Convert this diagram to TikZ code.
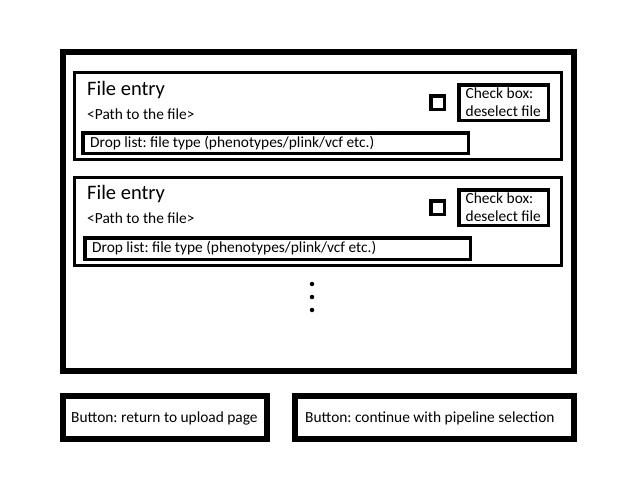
\documentclass[tikz,border=0pt]{standalone}
\usepackage{fontspec}
\setmainfont{Carlito}
\frenchspacing
\begin{document}
\begin{tikzpicture}[x=1pt, y=-1pt,
        outerbox/.style={draw, line width=6pt, inner sep=0pt},
        innerbox/.style={draw, line width=3.5pt, inner sep=0pt},
        label/.style={anchor=base west, inner sep=0pt, font=\fontsize{15.4}{18}\selectfont},
        title/.style={anchor=base west, inner sep=0pt, font=\fontsize{20.5}{24}\selectfont},
        dot/.style={circle, fill, inner sep=0pt, minimum size=4.5pt}]
    \useasboundingbox (0, 0) rectangle (640, 480);

    \node[outerbox, minimum width=511pt, minimum height=319pt] (page) at (318.5, 211.5) {};

    % first file entry
    \node[innerbox, minimum width=487pt, minimum height=87pt] (entryA) at (318, 116) {};
    \node[title] (titleA) at (87, 95) {File entry}; \node[label] (pathA) at (87, 119) {<Path to the file>};
    \node[innerbox, minimum width=385.5pt, minimum height=20.5pt] (dropA) at (275.5, 143) {};
    \node[label] (droptextA) at (90, 147) {Drop list: file type (phenotypes/plink/vcf etc.)};
    \node[innerbox, minimum size=13.5pt] (checkA) at (437.5, 102.5) {};
    \node[innerbox, minimum width=89.5pt, minimum height=35.5pt] (noteA) at (503.5, 102.5) {};
    \node[label] (noteAa) at (465.5, 98.5) {Check box:}; \node[label] (noteAb) at (465.5, 116) {deselect file};

    % second file entry
    \node[innerbox, minimum width=487pt, minimum height=88pt] (entryB) at (318, 221.5) {};
    \node[title] (titleB) at (87, 199.5) {File entry}; \node[label] (pathB) at (87, 223.5) {<Path to the file>};
    \node[innerbox, minimum width=385.5pt, minimum height=21.5pt] (dropB) at (277.5, 248.5) {};
    \node[label] (droptextB) at (92, 252.5) {Drop list: file type (phenotypes/plink/vcf etc.)};
    \node[innerbox, minimum size=13.5pt] (checkB) at (437.5, 207.5) {};
    \node[innerbox, minimum width=89.5pt, minimum height=35.5pt] (noteB) at (503.5, 207.5) {};
    \node[label] (noteBa) at (465.5, 203.5) {Check box:}; \node[label] (noteBb) at (465.5, 221) {deselect file};

    \node[dot] (dotA) at (312, 284) {}; \node[dot] (dotB) at (312, 297) {}; \node[dot] (dotC) at (312, 310) {};

    % buttons
    \node[outerbox, minimum width=204pt, minimum height=43pt] (back) at (165, 417) {};
    \node[label] (backtext) at (71, 422.5) {Button: return to upload page};
    \node[outerbox, minimum width=279pt, minimum height=43pt] (next) at (434.5, 417) {};
    \node[label] (nexttext) at (305, 422.5) {Button: continue with pipeline selection};
\end{tikzpicture}
\end{document}
